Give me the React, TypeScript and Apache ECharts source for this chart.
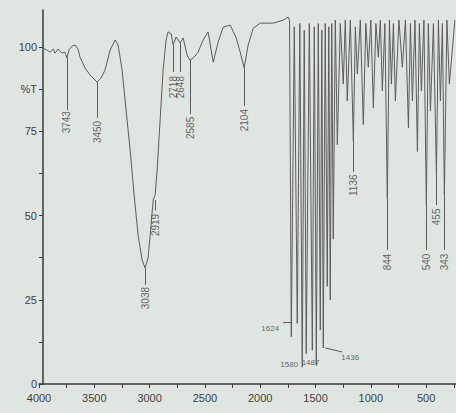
import React, { useEffect, useRef } from "react";
import * as echarts from "echarts";

// ---- axis ticks / labels ----
const xLabelValues = [4000, 3500, 3000, 2500, 2000, 1500, 1000, 500];
const xTickValues = [4000, 3750, 3500, 3250, 3000, 2750, 2500, 2250, 2000, 1750, 1500, 1250, 1000, 750, 500, 250];
const yTickValues = [0, 12.5, 25, 37.5, 50, 62.5, 75, 87.5, 100];
const yLabelValues = [0, 25, 50, 75, 87.5, 100];
const yLabelTexts = ["0", "25", "50", "75", "%T", "100"];

// ---- spectrum: [wavenumber (cm-1), %T] ----
const spectrum: [number, number][] = [
  [3964, 99.7], [3928, 99.1], [3900, 98.5], [3870, 99.4], [3855, 98.2], [3828, 99.4],
  [3792, 98.2], [3765, 98.5], [3747, 96.7], [3730, 99.1], [3700, 100.3], [3674, 100.6],
  [3647, 99.4], [3629, 97.0], [3584, 93.8], [3538, 91.7], [3475, 89.6], [3439, 90.8],
  [3403, 93.2], [3357, 99.1], [3312, 102.1], [3285, 100.6], [3249, 93.2], [3213, 81.3],
  [3176, 69.4], [3140, 56.1], [3104, 44.2], [3068, 36.8], [3041, 34.4], [3014, 37.4],
  [2995, 44.2], [2977, 51.0], [2968, 54.6], [2950, 56.1], [2932, 63.5], [2905, 78.3],
  [2878, 93.2], [2851, 102.1], [2833, 104.5], [2805, 103.9], [2787, 100.6], [2760, 103.0],
  [2724, 101.2], [2697, 102.7], [2661, 97.6], [2634, 96.1], [2597, 97.0], [2561, 98.5],
  [2516, 102.1], [2471, 104.5], [2425, 95.5], [2380, 101.5], [2335, 105.9], [2271, 106.5],
  [2217, 102.7], [2181, 98.5], [2145, 93.8], [2109, 100.6], [2063, 105.6], [2000, 107.1],
  [1882, 107.1], [1792, 108.0], [1747, 108.9], [1735, 108.0],
  [1719, 14], [1692, 106], [1665, 18], [1642, 107], [1620, 5], [1602, 105],
  [1584, 9], [1556, 107], [1529, 10], [1511, 106], [1493, 5.5], [1475, 107],
  [1457, 16], [1443, 105], [1430, 10.7], [1412, 107], [1394, 29], [1380, 106],
  [1367, 25], [1353, 107], [1340, 43], [1321, 108], [1303, 71], [1276, 107],
  [1249, 89], [1231, 108], [1213, 84], [1185, 108], [1158, 72], [1140, 106],
  [1122, 92], [1095, 108], [1068, 77], [1045, 107], [1023, 94], [1000, 108],
  [977, 82], [954, 107], [932, 97], [914, 108], [896, 87], [873, 107],
  [851, 55], [832, 108], [814, 89], [796, 107], [778, 84], [746, 108],
  [715, 94], [687, 108], [660, 76], [642, 107], [624, 84], [601, 108],
  [579, 69], [561, 107], [543, 87], [520, 108], [498, 53], [480, 107],
  [461, 81], [434, 107], [407, 62], [389, 108], [371, 84], [353, 107],
  [335, 56], [312, 108], [290, 89], [240, 108],
];

// ---- vertical peak labels ----
const vPeakTexts = ["3743", "3450", "3038", "2919", "2718", "2648", "2585", "2104", "1136", "844", "540", "455", "343"];
const vPeakWn = [3747, 3475, 3041, 2950, 2787, 2724, 2634, 2145, 1158, 851, 498, 407, 335];
const vLeaderFrom = [96.7, 89.6, 34.4, 54.6, 100.6, 101.2, 96.1, 93.8, 72, 55, 53, 62, 56];
const vLeaderTo = [81.3, 79.0, 29.4, 51.5, 92.6, 92.6, 80.1, 82.5, 62.9, 39.8, 39.8, 53.1, 39.8];
const vLabelT = [77.7, 74.8, 25.5, 47.2, 88.1, 88.1, 76.0, 78.3, 59.0, 36.2, 36.2, 49.6, 36.2];

// ---- horizontal peak labels ----
const hPeakTexts = ["1624", "1580", "1487", "1436"];
const hLabelWn = [1910, 1738, 1545, 1186];
const hLabelT = [16.5, 5.9, 6.5, 8.0];
const hLeaders: [number, number, number, number][] = [
  [1792, 18.4, 1710, 18.4],
  [1412, 10.7, 1258, 9.5],
];

const AXIS = "#3a3a3a";
const TEXT = "#3f3f3f";
const CURVE = "#5c5c5c";
const FONT = "Liberation Sans, Arial, sans-serif";

export default function App() {
  const ref = useRef<HTMLDivElement>(null);
  useEffect(() => {
    if (!ref.current) return;
    const chart = echarts.init(ref.current, undefined, { renderer: "svg" });
    const leaderData: any[] = vPeakWn.map((w, i) => [
      { coord: [w, vLeaderFrom[i]] },
      { coord: [w, vLeaderTo[i]] },
    ]);
    hLeaders.forEach((l) => leaderData.push([{ coord: [l[0], l[1]] }, { coord: [l[2], l[3]] }]));

    chart.setOption({
      animation: false,
      backgroundColor: "#dfe5e0",
      grid: { left: 39, top: 10, width: 417, height: 374, containLabel: false },
      xAxis: {
        type: "value",
        min: 230,
        max: 4000,
        inverse: true,
        axisLine: { show: true, onZero: false, lineStyle: { color: AXIS, width: 1.5 } },
        axisTick: { show: true, customValues: xTickValues, length: 4, lineStyle: { color: AXIS } },
        axisLabel: {
          customValues: xLabelValues,
          formatter: (v: number) => String(v),
          fontSize: 11,
          color: TEXT,
          fontFamily: FONT,
          margin: 8,
        },
        splitLine: { show: false },
      },
      yAxis: {
        type: "value",
        min: 0,
        max: 111,
        offset: -4,
        axisLine: { show: true, lineStyle: { color: AXIS, width: 1.5 } },
        axisTick: { show: true, customValues: yTickValues, length: 4, lineStyle: { color: AXIS } },
        axisLabel: {
          customValues: yLabelValues,
          formatter: (v: number) => {
            const i = yLabelValues.indexOf(v);
            return i >= 0 ? yLabelTexts[i] : "";
          },
          fontSize: 11,
          color: TEXT,
          fontFamily: FONT,
          margin: 6,
        },
        splitLine: { show: false },
      },
      series: [
        {
          type: "line",
          data: spectrum,
          symbol: "none",
          lineStyle: { color: CURVE, width: 1 },
          clip: true,
          markLine: {
            silent: true,
            symbol: ["none", "none"],
            label: { show: false },
            lineStyle: { color: CURVE, width: 1, type: "solid" },
            data: leaderData,
          },
        },
        {
          type: "scatter",
          symbolSize: 1,
          itemStyle: { color: "transparent" },
          data: vPeakTexts.map((t, i) => ({ name: t, value: [vPeakWn[i], vLabelT[i]] })),
          label: {
            show: true,
            position: "inside",
            rotate: 90,
            formatter: (p: any) => p.name,
            fontSize: 10,
            color: TEXT,
            fontFamily: FONT,
          },
        },
        {
          type: "scatter",
          symbolSize: 1,
          itemStyle: { color: "transparent" },
          data: hPeakTexts.map((t, i) => ({ name: t, value: [hLabelWn[i], hLabelT[i]] })),
          label: {
            show: true,
            position: "inside",
            formatter: (p: any) => p.name,
            fontSize: 8,
            color: TEXT,
            fontFamily: FONT,
          },
        },
      ],
    });
    return () => chart.dispose();
  }, []);
  return (
    <div
      ref={ref}
      style={{ position: "fixed", left: 0, top: 0, width: 456, height: 413, background: "#dfe5e0" }}
    />
  );
}
